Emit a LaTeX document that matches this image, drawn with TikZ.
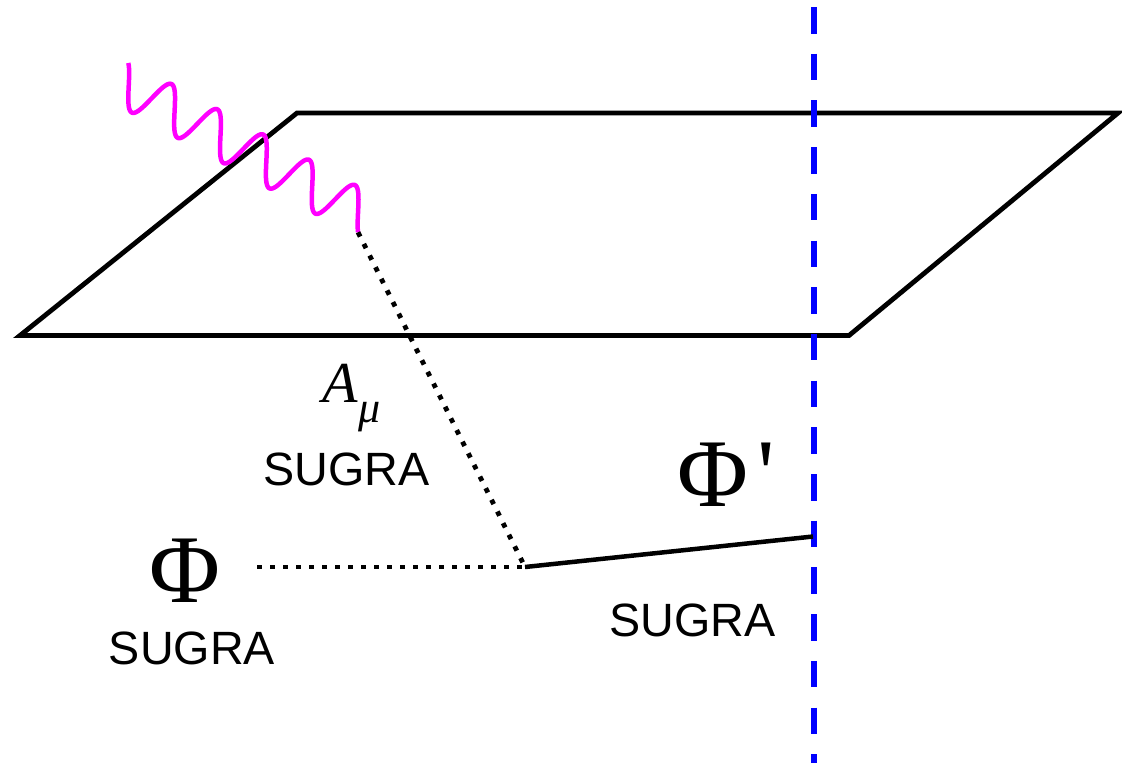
\documentclass[tikz,border=0pt]{standalone}
\usepackage{fontspec}
\setmainfont{Liberation Serif}
\newfontfamily\sugrafont{Liberation Sans}
\definecolor{mag}{RGB}{255,0,255}
\definecolor{brblue}{RGB}{0,0,255}
\begin{document}
\begin{tikzpicture}[x=1pt,y=-1pt,
  plane/.style={line width=4.8pt, black, line join=miter},
  photon/.style={line width=4.5pt, mag, line join=round},
  dotline/.style={line width=4.8pt, black, dash pattern=on 4.8pt off 8.2pt},
  solidline/.style={line width=4.5pt, black},
  braneline/.style={line width=6.5pt, brblue, dash pattern=on 26.5pt off 20.2pt},
  sugra/.style={inner sep=0pt, font=\sugrafont\fontsize{46.7}{56}\selectfont},
  bigphi/.style={inner sep=0pt, font=\fontsize{97}{110}\selectfont}
]
\fill[white] (0,0) rectangle (1122,763);
\useasboundingbox (0,0) rectangle (1122,763);

% brane (parallelogram)
\coordinate (pBL) at (20,335.5);
\coordinate (pTL) at (297,113);
\coordinate (pTR) at (1118,113);
\coordinate (pBR) at (849,335.5);
\draw[plane] (pBL) -- (pTL) -- (pTR) -- (pBR) -- cycle;

% vertical dashed brane
\coordinate (btop) at (814,7);
\coordinate (bbot) at (814,775);
\draw[braneline] (btop) -- (bbot);

% photon
\draw[photon] plot[domain=-2.67:30.788, samples=600, variable=\t]
  ({140.2+7.3*\t-8.5*cos(\t r)}, {92+4.02*\t+20.5*cos(\t r)}) coordinate (wend);

% junction and connectors
\coordinate (junc) at (525,567);
\coordinate (phiend) at (257,567);
\coordinate (brane) at (813,536.5);
\draw[dotline] (wend) -- (junc);
\draw[dotline] (phiend) -- (junc);
\draw[solidline] (junc) -- (brane);

% labels
\node[anchor=base west, inner sep=0pt] (amu) at (322,402)
  {\fontsize{58}{64}\selectfont\textit{A}\hspace{1pt}\raisebox{-20pt}{\fontsize{44}{50}\selectfont\textit{μ}}};
\node[sugra] (sugraA) at (346.5,469.5) {SUGRA};
\node[bigphi] (phi) at (185,570.5) {Φ};
\node[sugra] (sugraPhi) at (192,648.5) {SUGRA};
\node[bigphi, anchor=base west] (phip) at (677,506) {Φ\hspace{9pt}\textquotesingle};
\node[sugra] (sugraPhiP) at (692.5,620.5) {SUGRA};
\end{tikzpicture}
\end{document}
